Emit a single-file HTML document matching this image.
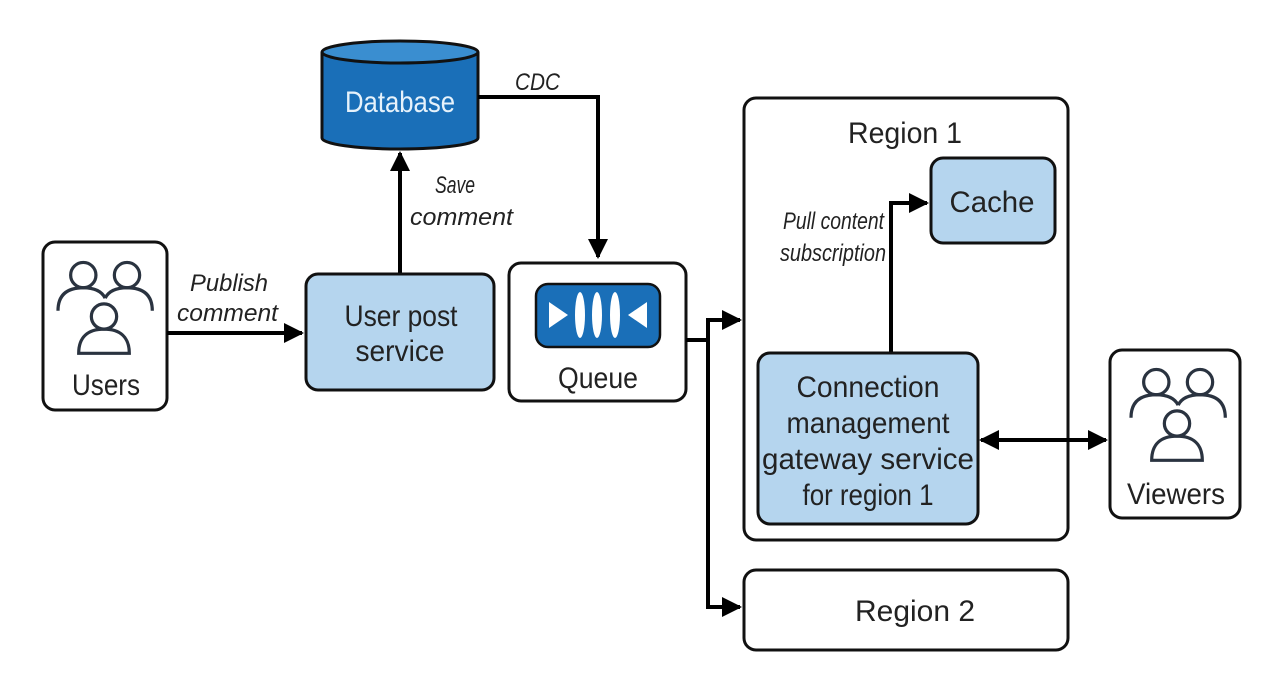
<!DOCTYPE html>
<html><head><meta charset="utf-8"><style>
html,body{margin:0;padding:0;background:#fff;width:1277px;height:686px;overflow:hidden}
svg text{font-family:"Liberation Sans Narrow","Liberation Sans",sans-serif;fill:#222}
.n{font-size:30px;text-anchor:middle}
.l{font-size:24px;font-style:italic}
</style></head><body>
<svg width="1277" height="686" viewBox="0 0 1277 686" xmlns="http://www.w3.org/2000/svg">
<defs>
<marker id="a" viewBox="0 0 10 10" refX="9" refY="5" markerWidth="5" markerHeight="5" orient="auto-start-reverse" markerUnits="strokeWidth"><path d="M0,0 L10,5 L0,10 z" fill="#000"/></marker>
<g id="ppl" fill="none" stroke="#2a3340" stroke-width="2.8">
<circle cx="-18" cy="-26" r="11"/><path d="M-40,5 c0,-14 8,-20 22,-20 c10,0 16,3 19,9"/>
<circle cx="20" cy="-26" r="11"/><path d="M42,5 c0,-14 -8,-20 -22,-20 c-10,0 -16,3 -19,9"/>
<circle cx="0" cy="10" r="11"/><path d="M-22,42 c0,-14 8,-21 22,-21 c14,0 22,7 22,21 z"/>
</g>
</defs>
<!-- Database -->
<path d="M322,52 L322,138 A78,11 0 0 0 478,138 L478,52" fill="#1a6fb8" stroke="#111" stroke-width="3"/>
<ellipse cx="400" cy="52" rx="78" ry="11" fill="#3a8ed0" stroke="#111" stroke-width="3"/>
<text x="400" y="112" class="n" style="fill:#e6f2fb" textLength="110" lengthAdjust="spacingAndGlyphs">Database</text>
<!-- CDC -->
<path d="M478,97 L598,97 L598,257" fill="none" stroke="#000" stroke-width="4" marker-end="url(#a)"/>
<text x="515" y="90" class="l" textLength="45" lengthAdjust="spacingAndGlyphs">CDC</text>
<!-- Save -->
<path d="M400,273 L400,153" fill="none" stroke="#000" stroke-width="4" marker-end="url(#a)"/>
<text x="435" y="193" class="l" textLength="40" lengthAdjust="spacingAndGlyphs">Save</text>
<text x="410" y="225" class="l" textLength="103" lengthAdjust="spacingAndGlyphs">comment</text>
<!-- Users -->
<rect x="43" y="242" width="124" height="168" rx="12" fill="#fff" stroke="#111" stroke-width="3"/>
<use href="#ppl" transform="translate(104,305) scale(1.15)"/>
<text x="106" y="395" class="n" textLength="68" lengthAdjust="spacingAndGlyphs">Users</text>
<path d="M167,333 L302,333" fill="none" stroke="#000" stroke-width="4" marker-end="url(#a)"/>
<text x="190" y="291" class="l" textLength="78" lengthAdjust="spacingAndGlyphs">Publish</text>
<text x="177" y="321" class="l" textLength="101" lengthAdjust="spacingAndGlyphs">comment</text>
<!-- User post -->
<rect x="306" y="274" width="188" height="116" rx="12" fill="#b5d5ee" stroke="#111" stroke-width="3"/>
<text x="401" y="326" class="n" textLength="113" lengthAdjust="spacingAndGlyphs">User post</text>
<text x="400" y="361" class="n" textLength="89" lengthAdjust="spacingAndGlyphs">service</text>
<!-- Queue -->
<rect x="509" y="263" width="177" height="138" rx="12" fill="#fff" stroke="#111" stroke-width="3"/>
<rect x="536" y="284" width="124" height="63" rx="12" fill="#1a6fb8" stroke="#111" stroke-width="2.5"/>
<path d="M549,302 L568,315 L549,328 z" fill="#fff"/>
<path d="M647,302 L628,315 L647,328 z" fill="#fff"/>
<ellipse cx="580" cy="315" rx="5" ry="23" fill="#fff"/>
<ellipse cx="597" cy="315" rx="5" ry="23" fill="#fff"/>
<ellipse cx="615" cy="315" rx="5" ry="23" fill="#fff"/>
<text x="598" y="388" class="n" textLength="80" lengthAdjust="spacingAndGlyphs">Queue</text>
<!-- fan out -->
<path d="M686,340 L708,340" stroke="#000" stroke-width="4"/>
<path d="M708,320 L708,607 L740,607" fill="none" stroke="#000" stroke-width="4" marker-end="url(#a)"/>
<path d="M706,320 L740,320" fill="none" stroke="#000" stroke-width="4" marker-end="url(#a)"/>
<!-- Region 1 -->
<rect x="744" y="98" width="324" height="442" rx="12" fill="#fff" stroke="#111" stroke-width="3"/>
<text x="905" y="143" class="n" textLength="114" lengthAdjust="spacingAndGlyphs">Region 1</text>
<rect x="931" y="158" width="124" height="85" rx="12" fill="#b5d5ee" stroke="#111" stroke-width="3"/>
<text x="992" y="212" class="n" textLength="85" lengthAdjust="spacingAndGlyphs">Cache</text>
<path d="M891,352 L891,203 L927,203" fill="none" stroke="#000" stroke-width="4" marker-end="url(#a)"/>
<text x="783" y="229" class="l" textLength="101" lengthAdjust="spacingAndGlyphs">Pull content</text>
<text x="780" y="261" class="l" textLength="106" lengthAdjust="spacingAndGlyphs">subscription</text>
<rect x="758" y="353" width="220" height="171" rx="12" fill="#b5d5ee" stroke="#111" stroke-width="3"/>
<text x="868" y="397" class="n" textLength="143" lengthAdjust="spacingAndGlyphs">Connection</text>
<text x="868" y="433" class="n" textLength="163" lengthAdjust="spacingAndGlyphs">management</text>
<text x="868" y="469" class="n" textLength="212" lengthAdjust="spacingAndGlyphs">gateway service</text>
<text x="868" y="505" class="n" textLength="131" lengthAdjust="spacingAndGlyphs">for region 1</text>
<path d="M981,440 L1106,440" fill="none" stroke="#000" stroke-width="4" marker-start="url(#a)" marker-end="url(#a)"/>
<!-- Viewers -->
<rect x="1110" y="350" width="130" height="168" rx="12" fill="#fff" stroke="#111" stroke-width="3"/>
<use href="#ppl" transform="translate(1177,412) scale(1.15)"/>
<text x="1176" y="504" class="n" textLength="98" lengthAdjust="spacingAndGlyphs">Viewers</text>
<!-- Region 2 -->
<rect x="744" y="570" width="324" height="80" rx="12" fill="#fff" stroke="#111" stroke-width="3"/>
<text x="915" y="621" class="n" textLength="120" lengthAdjust="spacingAndGlyphs">Region 2</text>
</svg>
</body></html>
